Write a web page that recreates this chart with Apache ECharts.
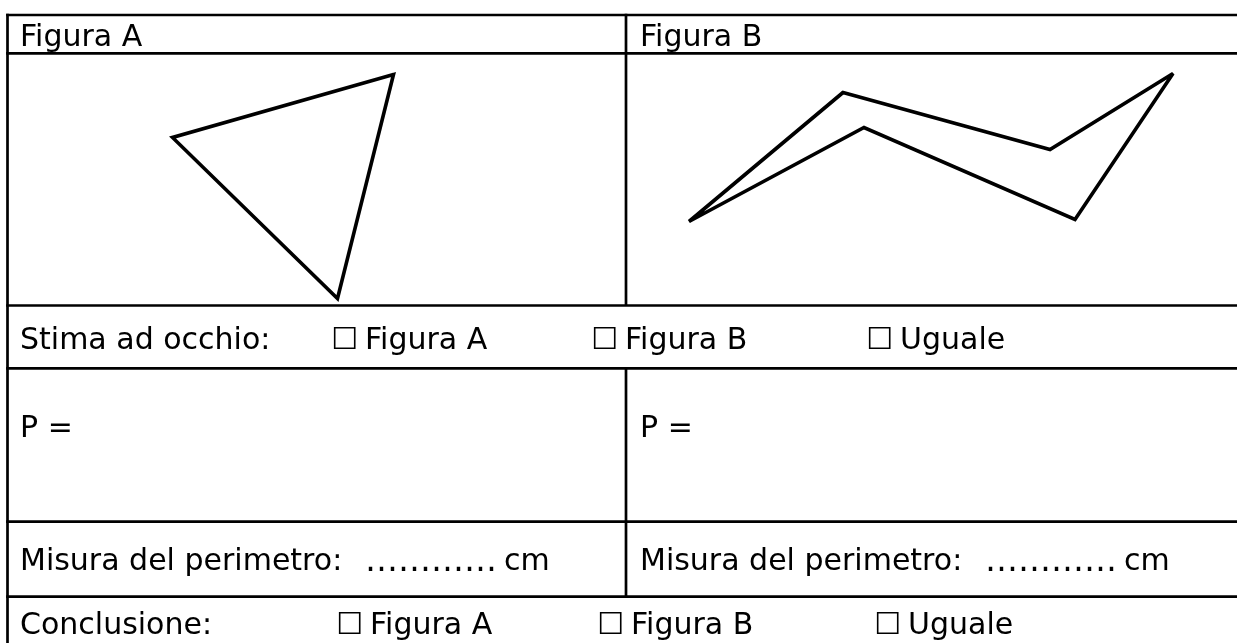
<!DOCTYPE html>
<html><head><meta charset="utf-8">
<script src="https://cdn.jsdelivr.net/npm/echarts@6/dist/echarts.min.js"></script>
<style>html,body{margin:0;padding:0;background:#fff}#c{width:1237px;height:643px}</style>
</head><body><div id="c"></div>
<script>
// ---------- data ----------
const headers = ['Figura A', 'Figura B'];
const estimateLabel = 'Stima ad occhio:';
const conclusionLabel = 'Conclusione:';
const choices = ['Figura A', 'Figura B', 'Uguale'];
const checkbox = '\u2610';
const formulaLabel = 'P =';
const measureLabel = 'Misura del perimetro:';
const blankDots = '\u2026\u2026\u2026\u2026';
const unitLabel = 'cm';
// polygon vertices (units of the figure cell, origin bottom-left)
const figA_x = [386, 165, 330];
const figA_y = [231, 168, 7];
const figB_x = [63, 217, 424, 547, 449, 238];
const figB_y = [84, 213, 156, 232, 86, 178];

// ---------- layout ----------
const FONT = '30px "DejaVu Sans"';
const rowY = [15, 53.3, 305.5, 368.3, 521.7, 596.7];
const leftX = 7.5, splitX = 626, rightX = 1237, bottomY = 643;
const colTextX = [20, 640];
const baseline = { header: 47, estimate: 350, formula: 438, measure: 571, conclusion: 635 };
const midOffset = 9;
const estimateBoxX = [331, 591, 866];
const conclusionBoxX = [336, 597, 874];
const boxToLabel = 34;
const dotsOffset = 345, unitOffset = 484;

const chart = echarts.init(document.getElementById('c'), null, { renderer: 'canvas' });

function txt(x, base, s, font) {
  return { type: 'text', x: x, y: base - midOffset, silent: true,
    style: { text: s, font: font || FONT, fill: '#000', verticalAlign: 'middle', align: 'left' } };
}
function hline(y, x1, x2) {
  return { type: 'line', silent: true, shape: { x1: x1, y1: y, x2: x2, y2: y },
    style: { stroke: '#000', lineWidth: 2.7 } };
}
function vline(x, y1, y2) {
  return { type: 'line', silent: true, shape: { x1: x, y1: y1, x2: x, y2: y2 },
    style: { stroke: '#000', lineWidth: 2.7 } };
}

const g = [];
rowY.forEach(y => g.push(hline(y, leftX - 1.35, rightX)));
g.push(vline(leftX, rowY[0] - 1.35, bottomY));
g.push(vline(splitX, rowY[0] - 1.35, rowY[2]));
g.push(vline(splitX, rowY[3], rowY[5]));

headers.forEach((h, i) => g.push(txt(colTextX[i], baseline.header, h)));
g.push(txt(colTextX[0], baseline.estimate, estimateLabel));
choices.forEach((c, i) => {
  g.push(txt(estimateBoxX[i], baseline.estimate, checkbox));
  g.push(txt(estimateBoxX[i] + boxToLabel, baseline.estimate, c));
});
colTextX.forEach(x => {
  g.push(txt(x, baseline.formula, formulaLabel));
  g.push(txt(x, baseline.measure, measureLabel));
  g.push(txt(x + dotsOffset, baseline.measure, blankDots, '33px "DejaVu Sans"'));
  g.push(txt(x + unitOffset, baseline.measure, unitLabel));
});
g.push(txt(colTextX[0], baseline.conclusion, conclusionLabel));
choices.forEach((c, i) => {
  g.push(txt(conclusionBoxX[i], baseline.conclusion, checkbox));
  g.push(txt(conclusionBoxX[i] + boxToLabel, baseline.conclusion, c));
});

function closedPath(xs, ys) {
  const pts = xs.map((x, i) => [x, ys[i]]);
  return pts.concat(pts.slice(0, 2));
}
const cellTop = rowY[1], cellH = rowY[2] - rowY[1];
const axisOff = { show: false, splitLine: { show: false } };

chart.setOption({
  animation: false,
  backgroundColor: '#fff',
  grid: [
    { left: leftX, top: cellTop, width: splitX - leftX, height: cellH },
    { left: splitX, top: cellTop, width: rightX - splitX, height: cellH }
  ],
  xAxis: [
    Object.assign({ type: 'value', gridIndex: 0, min: 0, max: splitX - leftX }, axisOff),
    Object.assign({ type: 'value', gridIndex: 1, min: 0, max: rightX - splitX }, axisOff)
  ],
  yAxis: [
    Object.assign({ type: 'value', gridIndex: 0, min: 0, max: cellH }, axisOff),
    Object.assign({ type: 'value', gridIndex: 1, min: 0, max: cellH }, axisOff)
  ],
  series: [
    { name: headers[0], type: 'line', xAxisIndex: 0, yAxisIndex: 0, data: closedPath(figA_x, figA_y),
      symbol: 'none', silent: true, clip: false,
      lineStyle: { color: '#000', width: 3.6, join: 'miter', miterLimit: 3 } },
    { name: headers[1], type: 'line', xAxisIndex: 1, yAxisIndex: 1, data: closedPath(figB_x, figB_y),
      symbol: 'none', silent: true, clip: false,
      lineStyle: { color: '#000', width: 3.6, join: 'miter', miterLimit: 3 } }
  ],
  graphic: { elements: g }
});
</script></body></html>
